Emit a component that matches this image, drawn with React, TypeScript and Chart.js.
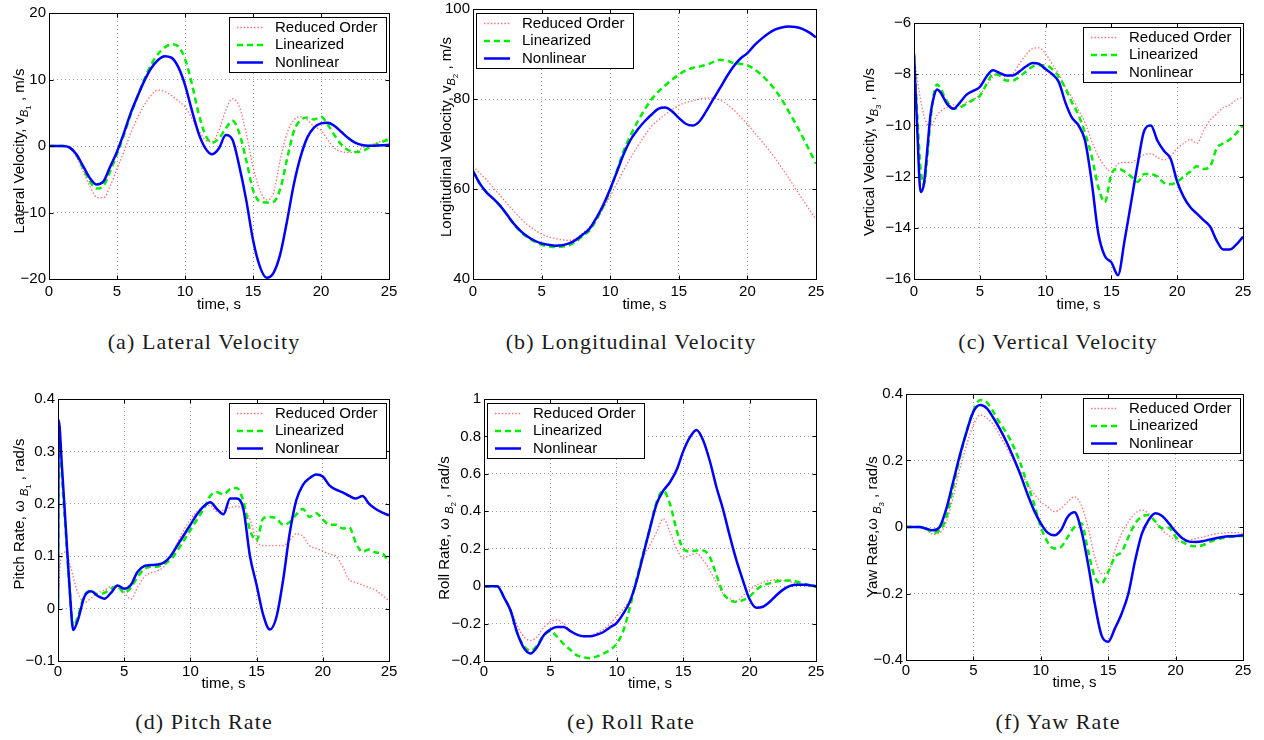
import React, { useEffect, useRef } from "react";
import { Chart, registerables } from "chart.js";

Chart.register(...registerables);

const FONT = '"Liberation Sans", Arial, Helvetica, sans-serif';
const SERIF = '"Liberation Serif", "Times New Roman", serif';

const SERIES_LABELS = ["Reduced Order", "Linearized", "Nonlinear"];
const X_TITLE = "time, s";
const X_MIN = 0;
const X_MAX = 25;
const X_STEP = 5;

// time grids (s)
const TIME = [0,0.5,1,1.5,2,2.5,3,3.5,4,4.5,5,5.5,6,6.5,7,7.5,8,8.5,9,9.5,10,10.5,11,11.5,12,12.5,13,13.5,14,14.5,15,15.5,16,16.5,17,17.5,18,18.5,19,19.5,20,20.5,21,21.5,22,22.5,23,23.5,24,24.5,25];
const TIME_C = [0,0.25,0.5,0.75,1,1.25,1.5,1.75,2,2.5,3,3.5,4,4.5,5,5.5,6,6.5,7,7.5,8,8.5,9,9.5,10,10.5,11,11.5,12,12.5,13,13.5,14,14.5,15,15.5,16,16.5,17,17.5,18,18.5,19,19.5,20,20.5,21,21.5,22,22.5,23,23.5,24,24.5,25];
const TIME_D = [0,0.05,0.3,0.6,0.9,1.15,1.5,2,2.5,3,3.5,4,4.5,5,5.5,6,6.5,7,7.5,8,8.5,9,9.5,10,10.5,11,11.5,12,12.5,13,13.5,14,14.5,15,15.5,16,16.5,17,17.5,18,18.5,19,19.5,20,20.5,21,21.5,22,22.5,23,23.5,24,24.5,25];

// (a) Lateral velocity, m/s
const A_RED = [0,0,0,-0.3,-1.6,-3.8,-6.0,-7.7,-7.8,-6.0,
  -3.4,-0.9,1.9,4.2,6.1,7.6,8.4,8.2,7.6,6.8,
  5.9,4.2,2.4,0.9,0.65,2.4,5.4,7.1,5.9,1.9,
  -3.1,-6.6,-8.1,-7.1,-2.1,1.9,3.9,4.4,3.9,2.9,
  2.4,0.9,-0.35,-0.85,-1.0,-0.85,-0.35,0.1,0.4,0.8,
  1.2];
const A_GREEN = [0,0,0,-0.2,-1.3,-3.3,-5.3,-6.4,-6.0,-3.8,
  -1.2,1.6,4.7,7.4,10.0,12.2,13.8,14.8,15.3,15.0,
  13.1,9.4,4.9,1.65,0.5,1.15,2.65,3.8,1.9,-2.1,
  -6.6,-8.35,-8.5,-8.4,-6.5,-2.0,2.2,3.9,4.3,4.0,
  4.4,3.2,1.6,0.2,-0.6,-0.9,-0.8,-0.3,0.2,0.6,
  1.0];
const A_BLUE = [0,0,0,-0.2,-1.2,-3.0,-4.8,-5.8,-5.35,-3.1,
  -0.85,1.9,4.9,7.4,9.75,11.65,12.9,13.5,13.3,11.9,
  9.2,5.4,1.9,-0.35,-1.25,-0.35,1.65,0.9,-3.1,-8.1,
  -14.1,-18.1,-19.8,-19.1,-16.3,-11.3,-5.8,-1.6,1.3,2.8,
  3.4,3.5,3.0,2.1,1.2,0.5,0.15,0.05,0.05,0.1,
  0.2];

// (b) Longitudinal velocity, m/s
const B_RED = [65,63.5,62,60.2,58.5,56.7,55.0,53.4,52.0,50.9,
  50.0,49.4,49.0,48.7,48.6,49.0,50.2,51.5,53.2,55.6,
  58.4,61.3,64.3,67.0,69.5,71.8,73.9,75.3,76.5,77.6,
  78.6,79.2,79.6,80.0,80.2,80.2,79.8,78.9,77.6,76.0,
  74.4,72.6,70.8,68.9,66.9,64.7,62.5,60.1,57.8,55.5,
  53.2];
const B_GREEN = [64,61.2,59.2,57.8,56.2,54.2,52.1,50.4,49.2,48.3,
  47.6,47.3,47.1,47.2,47.5,48.3,49.6,50.8,53.2,56.2,
  59.7,64.2,68.6,72.0,75.0,77.6,79.9,81.6,83.0,84.3,
  85.4,86.3,86.9,87.2,87.6,88.2,88.7,88.5,88.0,87.8,
  87.5,86.6,85.4,83.9,82.1,79.9,77.3,74.6,71.7,68.7,
  65.6];
const B_BLUE = [64,61.2,59.2,57.8,56.2,54.2,52.2,50.6,49.4,48.5,
  47.9,47.6,47.4,47.5,47.9,48.7,49.9,51.2,53.6,56.5,
  60.0,63.9,67.9,71.0,73.2,75.0,76.5,77.8,78.1,77.3,
  75.8,74.5,74.1,75.0,77.3,79.9,82.4,85.0,87.3,89.0,
  90.2,91.9,93.3,94.5,95.4,95.9,96.1,96.0,95.6,94.8,
  93.7];

// (c) Vertical velocity, m/s
const C_RED = [-7.2,-8.2,-9.0,-9.6,-9.95,-10.05,-9.85,-9.6,-9.45,
  -9.3,-9.2,-9.25,-9.1,-9.0,-8.8,-8.45,-8.1,-8.0,
  -8.1,-8.0,-7.6,-7.25,-7.0,-6.97,-7.2,-7.6,-8.0,
  -8.5,-8.9,-9.4,-9.9,-10.6,-11.2,-11.6,-11.8,-11.5,
  -11.45,-11.45,-11.3,-11.15,-11.1,-11.25,-11.35,-11.2,-10.9,
  -10.7,-10.55,-10.7,-10.2,-9.8,-9.55,-9.3,-9.2,-9.0,
  -8.9];
const C_GREEN = [-7.2,-9.6,-11.7,-12.3,-11.3,-9.8,-8.8,-8.4,-8.55,
  -9.05,-9.35,-9.3,-9.15,-9.0,-8.85,-8.4,-8.0,-8.05,
  -8.25,-8.25,-8.1,-7.9,-7.7,-7.65,-7.65,-7.8,-8.1,
  -8.55,-9.1,-9.6,-10.3,-11.2,-12.4,-13.0,-11.9,-11.7,
  -11.8,-12.0,-12.2,-11.9,-11.9,-12.0,-12.25,-12.3,-12.2,
  -12.0,-11.8,-11.6,-11.7,-11.6,-10.9,-10.7,-10.55,-10.3,
  -10.0];
const C_BLUE = [-7.2,-10.2,-12.6,-12.3,-11.0,-9.6,-8.9,-8.6,-8.7,
  -9.15,-9.35,-9.1,-8.8,-8.65,-8.5,-8.1,-7.85,-7.95,
  -8.05,-8.05,-7.9,-7.7,-7.56,-7.6,-7.8,-8.0,-8.3,
  -9.1,-9.7,-10.0,-10.6,-12.2,-14.2,-15.1,-15.35,-15.85,
  -14.5,-13.0,-11.5,-10.2,-10.0,-10.6,-11.0,-11.3,-12.2,
  -12.8,-13.2,-13.45,-13.7,-13.95,-14.5,-14.85,-14.85,-14.65,
  -14.35];

// (d) Pitch rate, rad/s
const D_RED = [0,0.04,0.105,0.108,0.085,0.06,0.03,
  0.012,0.02,0.03,0.035,0.042,0.04,0.03,0.018,0.04,
  0.06,0.068,0.072,0.08,0.1,0.125,0.15,0.17,0.185,
  0.195,0.197,0.185,0.188,0.193,0.195,0.19,0.17,0.13,
  0.12,0.12,0.12,0.12,0.13,0.143,0.138,0.12,0.115,
  0.11,0.104,0.1,0.08,0.055,0.05,0.045,0.04,0.035,
  0.025,0.015];
const D_GREEN = [0,0.35,0.25,0.14,0.03,-0.035,-0.015,
  0.025,0.034,0.027,0.03,0.038,0.043,0.03,0.04,0.06,
  0.075,0.08,0.08,0.085,0.093,0.11,0.13,0.15,0.17,
  0.19,0.215,0.222,0.218,0.228,0.23,0.205,0.15,0.13,
  0.172,0.175,0.172,0.16,0.165,0.18,0.19,0.175,0.182,
  0.17,0.16,0.16,0.153,0.155,0.125,0.108,0.113,0.107,
  0.105,0.088];
const D_BLUE = [0,0.36,0.27,0.15,0.03,-0.041,-0.022,
  0.023,0.033,0.024,0.019,0.03,0.044,0.038,0.045,0.07,
  0.081,0.083,0.084,0.088,0.1,0.12,0.14,0.16,0.18,
  0.195,0.203,0.19,0.18,0.21,0.21,0.19,0.1,0.045,
  -0.012,-0.04,-0.016,0.054,0.144,0.207,0.236,0.249,0.256,
  0.252,0.235,0.227,0.222,0.215,0.21,0.215,0.2,0.19,
  0.183,0.178];

// (e) Roll rate, rad/s
const E_RED = [0,0,0,-0.06,-0.12,-0.21,-0.27,-0.29,-0.27,-0.22,
  -0.19,-0.18,-0.2,-0.24,-0.265,-0.27,-0.265,-0.25,-0.23,-0.2,
  -0.16,-0.12,-0.07,0.02,0.15,0.22,0.29,0.36,0.29,0.2,
  0.15,0.165,0.175,0.14,0.085,0.02,-0.04,-0.066,-0.08,-0.05,
  -0.02,0.005,0.02,0.03,0.035,0.03,0.025,0.015,0.01,0.0,
  -0.005];
const E_GREEN = [0,0,0,-0.06,-0.13,-0.25,-0.32,-0.345,-0.316,-0.26,
  -0.242,-0.27,-0.31,-0.34,-0.37,-0.38,-0.385,-0.375,-0.36,-0.34,
  -0.307,-0.236,-0.11,0.04,0.18,0.31,0.45,0.51,0.44,0.3,
  0.2,0.185,0.19,0.19,0.157,0.06,-0.035,-0.075,-0.084,-0.075,
  -0.055,-0.02,0.005,0.015,0.025,0.03,0.03,0.025,0.015,0.005,
  -0.005];
const E_BLUE = [0,0,0,-0.06,-0.13,-0.25,-0.33,-0.36,-0.325,-0.262,
  -0.232,-0.218,-0.218,-0.24,-0.259,-0.268,-0.268,-0.259,-0.245,-0.22,
  -0.196,-0.146,-0.08,0.03,0.17,0.31,0.44,0.51,0.555,0.62,
  0.72,0.795,0.835,0.78,0.67,0.53,0.41,0.27,0.14,0.03,
  -0.07,-0.115,-0.11,-0.085,-0.05,-0.02,0.0,0.007,0.008,0.005,
  0.0];

// (f) Yaw rate, rad/s
const F_RED = [0,0,0,-0.005,-0.022,-0.018,0.016,0.09,0.176,0.247,
  0.307,0.337,0.327,0.307,0.272,0.236,0.2,0.166,0.13,0.1,
  0.076,0.061,0.046,0.056,0.076,0.091,0.066,0.0,-0.09,-0.14,
  -0.135,-0.07,-0.02,0.016,0.041,0.051,0.04,0.015,-0.01,-0.025,
  -0.04,-0.045,-0.04,-0.035,-0.03,-0.025,-0.02,-0.018,-0.017,-0.017,
  -0.02];
const F_GREEN = [0,0,0,-0.005,-0.018,-0.01,0.03,0.12,0.21,0.29,
  0.35,0.382,0.375,0.345,0.31,0.28,0.24,0.19,0.13,0.07,
  0.0,-0.045,-0.065,-0.06,-0.03,0.0,0.011,-0.07,-0.15,-0.17,
  -0.135,-0.09,-0.075,-0.03,0.011,0.031,0.036,0.016,-0.004,-0.002,
  -0.03,-0.045,-0.055,-0.058,-0.055,-0.045,-0.038,-0.033,-0.03,-0.028,
  -0.027];
const F_BLUE = [0,0,0,-0.005,-0.01,0.0,0.056,0.136,0.217,0.287,
  0.347,0.367,0.357,0.327,0.292,0.252,0.206,0.156,0.1,0.05,
  0.011,-0.017,-0.025,-0.009,0.031,0.044,-0.009,-0.11,-0.23,-0.325,
  -0.345,-0.305,-0.26,-0.2,-0.1,-0.02,0.021,0.041,0.033,0.011,
  -0.014,-0.034,-0.044,-0.045,-0.043,-0.038,-0.034,-0.03,-0.028,-0.027,
  -0.025];

const SERIES_STYLE = [
  { color: "rgba(255,50,50,0.72)", width: 1.3, dash: [1.4, 2] },
  { color: "#00ee00", width: 2.5, dash: [6, 4] },
  { color: "#0000ff", width: 2.5, dash: [] as number[] },
];

type YTitle = { main: string; sub: string; sub2: string; tail: string; cx: number; cy: number };
type PanelDef = {
  caption: string;
  time: number[];
  series: number[][];
  yMin: number;
  yMax: number;
  yStep: number;
  plot: [number, number, number, number];
  legendCorner: "ne" | "nw";
  yTitle: YTitle;
  xTickPad: number;
  xTitlePad: number;
  capX: number;
  capBase: number;
};

const PANELS: PanelDef[] = [
  {
    caption: "(a) Lateral Velocity", time: TIME, series: [A_RED, A_GREEN, A_BLUE],
    yMin: -20, yMax: 20, yStep: 10, plot: [49, 13, 389, 279], legendCorner: "ne",
    yTitle: { main: "Lateral Velocity, v", sub: "B", sub2: "1", tail: " , m/s", cx: 19, cy: 151 },
    xTickPad: 4, xTitlePad: 5, capX: 204, capBase: 349.5,
  },
  {
    caption: "(b) Longitudinal Velocity", time: TIME, series: [B_RED, B_GREEN, B_BLUE],
    yMin: 40, yMax: 100, yStep: 20, plot: [473, 9, 816, 279], legendCorner: "nw",
    yTitle: { main: "Longitudinal Velocity, v", sub: "B", sub2: "2", tail: " , m/s", cx: 446, cy: 137 },
    xTickPad: 4, xTitlePad: 5, capX: 631, capBase: 349.5,
  },
  {
    caption: "(c) Vertical Velocity", time: TIME_C, series: [C_RED, C_GREEN, C_BLUE],
    yMin: -16, yMax: -6, yStep: 2, plot: [914, 23, 1243, 279], legendCorner: "ne",
    yTitle: { main: "Vertical Velocity, v", sub: "B", sub2: "3", tail: " , m/s", cx: 869, cy: 152 },
    xTickPad: 4, xTitlePad: 5, capX: 1058, capBase: 349.5,
  },
  {
    caption: "(d) Pitch Rate", time: TIME_D, series: [D_RED, D_GREEN, D_BLUE],
    yMin: -0.1, yMax: 0.4, yStep: 0.1, plot: [58, 399, 389, 661], legendCorner: "ne",
    yTitle: { main: "Pitch Rate, \u03c9 ", sub: "B", sub2: "1", tail: " , rad/s", cx: 18.5, cy: 514 },
    xTickPad: 2, xTitlePad: 8, capX: 204, capBase: 729,
  },
  {
    caption: "(e) Roll Rate", time: TIME, series: [E_RED, E_GREEN, E_BLUE],
    yMin: -0.4, yMax: 1, yStep: 0.2, plot: [484, 399, 816, 661], legendCorner: "nw",
    yTitle: { main: "Roll Rate, \u03c9 ", sub: "B", sub2: "2", tail: " , rad/s", cx: 444, cy: 528 },
    xTickPad: 2, xTitlePad: 8, capX: 631, capBase: 729,
  },
  {
    caption: "(f) Yaw Rate", time: TIME, series: [F_RED, F_GREEN, F_BLUE],
    yMin: -0.4, yMax: 0.4, yStep: 0.2, plot: [906, 394, 1243, 660], legendCorner: "ne",
    yTitle: { main: "Yaw Rate,\u03c9 ", sub: "B", sub2: "3", tail: " , rad/s", cx: 871.5, cy: 527 },
    xTickPad: 2, xTitlePad: 8, capX: 1058, capBase: 729,
  },
];

function fmt(v: number): string {
  const r = Math.round(v * 1000) / 1000;
  if (r === 0) return "0";
  const s = String(Math.abs(r));
  return r < 0 ? "\u2212" + s : s;
}

const GRID_COLOR = "rgba(0,0,0,0.38)";

function PanelChart({ p }: { p: PanelDef }) {
  const ref = useRef<HTMLCanvasElement>(null);
  const [L, T, R, B] = p.plot;
  const Lm = Math.min(62, L);
  const Tm = 14;
  const Rm = 14;
  const Bm = 40;
  const W = Lm + (R - L) + Rm;
  const H = Tm + (B - T) + Bm;
  const left0 = L - Lm;
  const top0 = T - Tm;

  useEffect(() => {
    const canvas = ref.current;
    if (!canvas) return;
    const datasets = p.series.map((vals, i) => ({
      label: SERIES_LABELS[i],
      data: p.time.map((t, k) => ({ x: t, y: vals[k] })),
      borderColor: SERIES_STYLE[i].color,
      borderWidth: SERIES_STYLE[i].width,
      borderDash: SERIES_STYLE[i].dash,
      pointRadius: 0,
      fill: false,
      cubicInterpolationMode: "monotone" as const,
      order: 2 - i,
    }));

    const overlay = {
      id: "overlay",
      afterDraw(chart: any) {
        const ctx = chart.ctx as CanvasRenderingContext2D;
        const a = chart.chartArea;
        const xs = chart.scales.x;
        const ys = chart.scales.y;
        ctx.save();
        ctx.setLineDash([]);
        ctx.strokeStyle = "#000";
        ctx.lineWidth = 1;
        const l = Math.round(a.left) + 0.5;
        const t = Math.round(a.top) + 0.5;
        const r = Math.round(a.right) + 0.5;
        const b = Math.round(a.bottom) + 0.5;
        ctx.strokeRect(l, t, r - l, b - t);
        const TL = 4;
        ctx.beginPath();
        for (const tk of xs.ticks) {
          const x = Math.round(xs.getPixelForValue(tk.value)) + 0.5;
          ctx.moveTo(x, b); ctx.lineTo(x, b - TL);
          ctx.moveTo(x, t); ctx.lineTo(x, t + TL);
        }
        for (const tk of ys.ticks) {
          const y = Math.round(ys.getPixelForValue(tk.value)) + 0.5;
          ctx.moveTo(l, y); ctx.lineTo(l + TL, y);
          ctx.moveTo(r, y); ctx.lineTo(r - TL, y);
        }
        ctx.stroke();

        // legend box
        const LW = 157;
        const LH = 55;
        const lx = p.legendCorner === "ne" ? Math.round(a.right) - 3 - LW : Math.round(a.left) + 3;
        const ly = Math.round(a.top) + 4;
        ctx.fillStyle = "#fff";
        ctx.fillRect(lx, ly, LW, LH);
        ctx.strokeStyle = "#000";
        ctx.lineWidth = 1;
        ctx.strokeRect(lx + 0.5, ly + 0.5, LW, LH);
        SERIES_LABELS.forEach((label, i) => {
          const yy = ly + 10.5 + i * 17.5;
          const st = SERIES_STYLE[i];
          ctx.save();
          ctx.strokeStyle = st.color;
          ctx.lineWidth = st.width;
          ctx.setLineDash(st.dash);
          ctx.beginPath();
          ctx.moveTo(lx + 8, yy);
          ctx.lineTo(lx + 34, yy);
          ctx.stroke();
          ctx.restore();
          ctx.fillStyle = "#000";
          ctx.font = `15px ${FONT}`;
          ctx.textAlign = "left";
          ctx.textBaseline = "middle";
          ctx.fillText(label, lx + 46, yy);
        });

        // y-axis title with subscripts
        const yt = p.yTitle;
        ctx.translate(yt.cx - left0, yt.cy - top0);
        ctx.rotate(-Math.PI / 2);
        const fMain = `15px ${FONT}`;
        const fSub = `italic 11px ${FONT}`;
        const fSub2 = `8px ${FONT}`;
        ctx.font = fMain;
        const w1 = ctx.measureText(yt.main).width;
        const w4 = ctx.measureText(yt.tail).width;
        ctx.font = fSub;
        const w2 = ctx.measureText(yt.sub).width;
        ctx.font = fSub2;
        const w3 = ctx.measureText(yt.sub2).width;
        let x = -(w1 + w2 + w3 + w4) / 2;
        const base = 5;
        ctx.fillStyle = "#000";
        ctx.textAlign = "left";
        ctx.textBaseline = "alphabetic";
        ctx.font = fMain; ctx.fillText(yt.main, x, base); x += w1;
        ctx.font = fSub; ctx.fillText(yt.sub, x, base + 4); x += w2;
        ctx.font = fSub2; ctx.fillText(yt.sub2, x, base + 7); x += w3;
        ctx.font = fMain; ctx.fillText(yt.tail, x, base);
        ctx.restore();
      },
    };

    const tickFont = { family: FONT, size: 15 };
    const chart = new Chart(canvas, {
      type: "line",
      data: { datasets: datasets as any },
      options: {
        responsive: false,
        animation: false,
        devicePixelRatio: 1,
        layout: { padding: { top: Tm, right: Rm, left: 0, bottom: 0 } },
        plugins: { legend: { display: false }, tooltip: { enabled: false }, title: { display: false } },
        scales: {
          x: {
            type: "linear",
            min: X_MIN,
            max: X_MAX,
            ticks: { stepSize: X_STEP, padding: p.xTickPad, color: "#000", font: tickFont, maxRotation: 0, autoSkip: false, callback: (v: any) => fmt(Number(v)) },
            grid: { color: GRID_COLOR, lineWidth: 1, drawTicks: false },
            border: { display: false, dash: [1, 3] },
            title: { display: true, text: X_TITLE, color: "#000", font: tickFont, padding: { top: 0, bottom: p.xTitlePad } },
            afterFit: (s: any) => { s.height = Bm; },
          },
          y: {
            type: "linear",
            min: p.yMin,
            max: p.yMax,
            ticks: { stepSize: p.yStep, padding: 3, color: "#000", font: tickFont, autoSkip: false, callback: (v: any) => fmt(Number(v)) },
            grid: { color: GRID_COLOR, lineWidth: 1, drawTicks: false },
            border: { display: false, dash: [1, 3] },
            afterFit: (s: any) => { s.width = Lm; },
          },
        },
      } as any,
      plugins: [overlay],
    });
    return () => chart.destroy();
  }, []);

  return (
    <canvas
      ref={ref}
      width={W}
      height={H}
      style={{ position: "absolute", left: left0, top: top0, width: W, height: H }}
    />
  );
}

export default function App() {
  return (
    <div style={{ position: "absolute", left: 0, top: 0, width: 1264, height: 740, background: "#fff", overflow: "hidden" }}>
      {PANELS.map((p) => (
        <PanelChart key={p.caption} p={p} />
      ))}
      {PANELS.map((p) => (
        <div
          key={"cap" + p.caption}
          style={{
            position: "absolute",
            left: p.capX - 250,
            width: 500,
            top: p.capBase - 20.4,
            textAlign: "center",
            fontFamily: SERIF,
            fontSize: 22,
            lineHeight: "26px",
            letterSpacing: "1.1px",
            color: "#1a1a1a",
            whiteSpace: "nowrap",
          }}
        >
          {p.caption}
        </div>
      ))}
    </div>
  );
}
